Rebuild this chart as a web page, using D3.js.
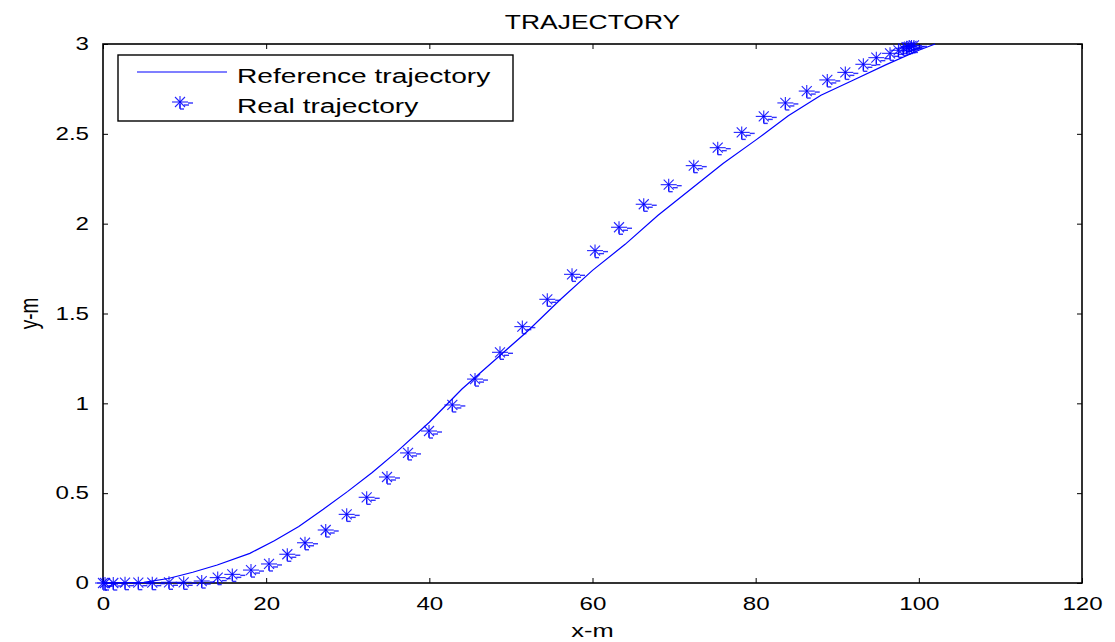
<!DOCTYPE html>
<html>
<head>
<meta charset="utf-8">
<script src="https://cdnjs.cloudflare.com/ajax/libs/d3/7.8.5/d3.min.js"></script>
<style>
  body { margin: 0; background: #fff; }
  svg { display: block; font-family: "Liberation Sans", Arial, sans-serif; }
</style>
</head>
<body>
<div id="container"></div>
<script>
// reference trajectory (x in m, y in m)
const refX = [0, 5, 8, 11, 14, 18, 21, 24, 27, 30, 33, 36, 40, 44, 48, 52, 56, 60, 64, 68, 72, 76, 80, 84, 88, 92, 96, 100, 102];
const refY = [0, 0.003, 0.025, 0.06, 0.1, 0.165, 0.235, 0.315, 0.41, 0.51, 0.615, 0.73, 0.895, 1.08, 1.24, 1.4, 1.575, 1.74, 1.885, 2.045, 2.19, 2.335, 2.465, 2.6, 2.715, 2.8, 2.885, 2.965, 3.0];

// real trajectory samples
const realX = [0, 0.25, 1.26, 2.7, 4.33, 6.04, 8.09, 9.89, 12.1, 14.06, 15.85, 18.14, 20.35, 22.59, 24.76, 27.3, 29.87, 32.32, 34.81, 37.39, 39.96, 42.82, 45.6, 48.66, 51.4, 54.46, 57.49, 60.31, 63.25, 66.28, 69.34, 72.41, 75.35, 78.29, 80.99, 83.64, 86.26, 88.78, 90.99, 93.2, 94.79, 96.47, 97.5, 98.1, 98.5, 98.8, 99.1, 99.4];
const realY = [0, 0, 0, 0.002, 0.002, 0.002, 0.004, 0.004, 0.011, 0.03, 0.048, 0.072, 0.106, 0.16, 0.224, 0.295, 0.382, 0.477, 0.59, 0.724, 0.846, 0.991, 1.135, 1.284, 1.427, 1.579, 1.718, 1.85, 1.98, 2.108, 2.217, 2.323, 2.423, 2.508, 2.597, 2.672, 2.738, 2.8, 2.842, 2.887, 2.924, 2.948, 2.965, 2.976, 2.982, 2.986, 2.99, 2.992];

const xTicks = [0, 20, 40, 60, 80, 100, 120];
const yTicks = [0, 0.5, 1, 1.5, 2, 2.5, 3];

const seriesNames = ['Reference trajectory', 'Real trajectory'];

const W = 1115, H = 642;
const margin = { top: 44, right: 33, bottom: 59, left: 103 };
const width = W - margin.left - margin.right;
const height = H - margin.top - margin.bottom;
const blue = '#0000ff';
const stretch = 1.34; // the picture's text is wider than it is tall

const svg = d3.select('#container')
  .append('svg')
  .attr('width', W)
  .attr('height', H);

const g = svg.append('g')
  .attr('transform', `translate(${margin.left},${margin.top})`);

const x = d3.scaleLinear().domain([0, 120]).range([0, width]);
const y = d3.scaleLinear().domain([0, 3]).range([height, 0]);

// clip for data
svg.append('defs').append('clipPath').attr('id', 'plotclip')
  .append('rect').attr('x', -12).attr('y', -4).attr('width', width + 12).attr('height', height + 16);

// widen text around its own anchor x
function widen(sel, sx) {
  sel.attr('transform', function() {
    const xx = +this.getAttribute('x') || 0;
    return `translate(${xx},0) scale(${sx},1) translate(${-xx},0)`;
  });
}

// axes (ticks pointing inward, on all four sides)
const axisStyle = sel => {
  sel.select('.domain').remove();
  sel.selectAll('line').attr('stroke', '#000').attr('stroke-width', 1);
  sel.selectAll('text').attr('fill', '#000').attr('font-size', 18).call(widen, stretch);
};

g.append('g')
  .attr('transform', `translate(0,${height})`)
  .call(d3.axisBottom(x).tickValues(xTicks).tickSize(-5).tickPadding(14).tickFormat(d3.format('d')))
  .call(axisStyle);

g.append('g')
  .call(d3.axisLeft(y).tickValues(yTicks).tickSize(-5).tickPadding(14).tickFormat(d => d3.format('')(d)))
  .call(axisStyle);

g.append('g')
  .call(d3.axisTop(x).tickValues(xTicks).tickSize(-5).tickFormat(''))
  .call(axisStyle);

g.append('g')
  .attr('transform', `translate(${width},0)`)
  .call(d3.axisRight(y).tickValues(yTicks).tickSize(-5).tickFormat(''))
  .call(axisStyle);

// box
g.append('rect')
  .attr('width', width).attr('height', height)
  .attr('fill', 'none').attr('stroke', '#000').attr('stroke-width', 1.6);

const plot = g.append('g').attr('clip-path', 'url(#plotclip)');

// reference line
const refData = refX.map((d, i) => [d, refY[i]]);
plot.append('path')
  .datum(refData)
  .attr('fill', 'none')
  .attr('stroke', blue)
  .attr('stroke-width', 1.2)
  .attr('d', d3.line().x(d => x(d[0])).y(d => y(d[1])));

// asterisk marker with the small offset dashes seen in the picture
function star(sel) {
  const arms = [[-8, 0, 8, 0], [0, -6, 0, 6], [-5, -5, 5, 5], [-5, 5, 5, -5]];
  arms.forEach(a => sel.append('line')
    .attr('x1', a[0]).attr('y1', a[1]).attr('x2', a[2]).attr('y2', a[3])
    .attr('stroke', blue).attr('stroke-width', 1.1).attr('opacity', 0.85));
  const extra = [[8, 1, 13, 1], [4, 3, 9, 3], [0, 2, 0, 7], [0, 7, 4, 7]];
  extra.forEach(a => sel.append('line')
    .attr('x1', a[0]).attr('y1', a[1]).attr('x2', a[2]).attr('y2', a[3])
    .attr('stroke', blue).attr('stroke-width', 1.4).attr('opacity', 0.8));
}

const realData = realX.map((d, i) => [d, realY[i]]);
plot.selectAll('.pt')
  .data(realData)
  .enter()
  .append('g')
  .attr('class', 'pt')
  .attr('transform', d => `translate(${x(d[0])},${y(d[1])})`)
  .each(function() { star(d3.select(this)); });

// title and labels
svg.append('text')
  .attr('x', margin.left + width / 2).attr('y', 29)
  .attr('text-anchor', 'middle')
  .attr('font-size', 21)
  .text('TRAJECTORY')
  .call(widen, 1.26);

svg.append('text')
  .attr('x', margin.left + width / 2).attr('y', 637)
  .attr('text-anchor', 'middle')
  .attr('font-size', 19)
  .text('x-m')
  .call(widen, stretch);

svg.append('text')
  .attr('transform', `translate(38,${margin.top + height / 2}) rotate(-90) scale(1,${stretch})`)
  .attr('text-anchor', 'middle')
  .attr('font-size', 19)
  .text('y-m');

// legend
const lg = svg.append('g').attr('transform', 'translate(118,55)');
lg.append('rect')
  .attr('width', 395).attr('height', 66)
  .attr('fill', '#fff').attr('stroke', '#000').attr('stroke-width', 1.4);
lg.append('line')
  .attr('x1', 19).attr('x2', 109).attr('y1', 17).attr('y2', 17)
  .attr('stroke', blue).attr('stroke-width', 1.2);
lg.append('g').attr('transform', 'translate(62,47)').call(star);
lg.selectAll('.lt')
  .data(seriesNames)
  .enter()
  .append('text')
  .attr('x', 119)
  .attr('y', (d, i) => 28 + i * 30)
  .attr('font-size', 21)
  .text(d => d)
  .call(widen, stretch);
</script>
</body>
</html>
